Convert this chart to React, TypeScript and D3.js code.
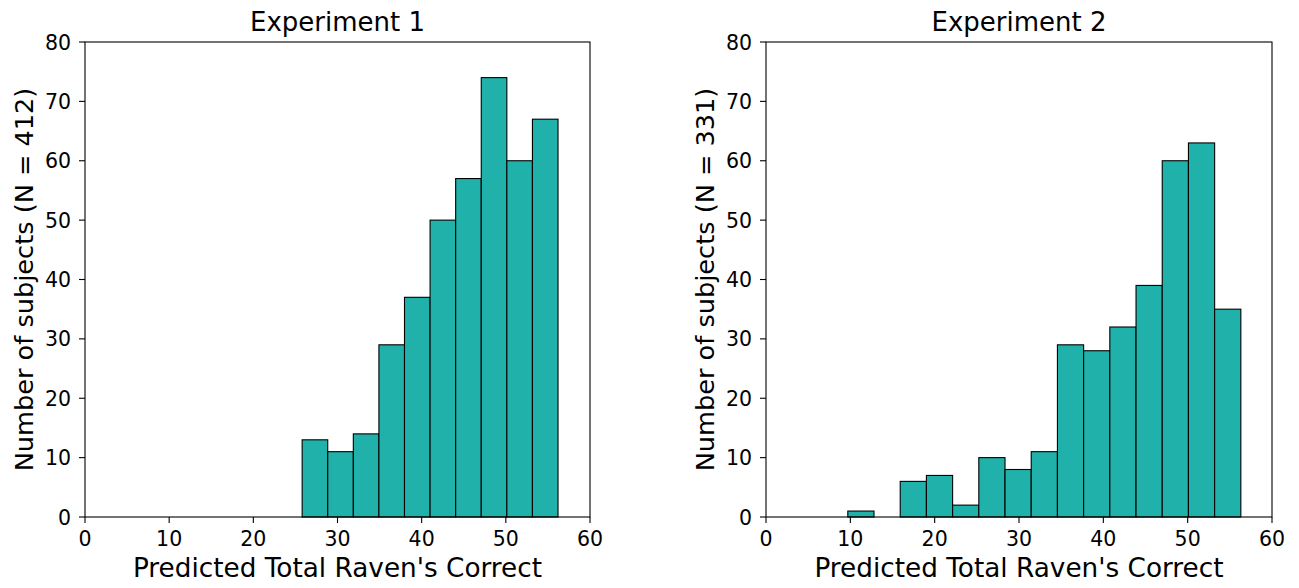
import React from "react";
import * as d3 from "d3";

const exp1Start = 25.8;
const exp1Width = 3.04;
const exp1Counts = [13, 11, 14, 29, 37, 50, 57, 74, 60, 67];

const exp2Start = 9.7;
const exp2Width = 3.107;
const exp2Counts = [1, 0, 6, 7, 2, 10, 8, 11, 29, 28, 32, 39, 60, 63, 35];

const xTicks = [0, 10, 20, 30, 40, 50, 60];
const yTicks = [0, 10, 20, 30, 40, 50, 60, 70, 80];

const FONT = "DejaVu Sans, sans-serif";

function Panel({ left, right, title, ylabel, start, width, counts }: any) {
  const top = 42, bottom = 517;
  const x = d3.scaleLinear().domain([0, 60]).range([left, right]);
  const y = d3.scaleLinear().domain([0, 80]).range([bottom, top]);
  return (
    <g>
      {counts.map((c: number, i: number) => {
        const x0 = x(start + i * width);
        const x1 = x(start + (i + 1) * width);
        return (
          <rect key={i} x={x0} y={y(c)} width={x1 - x0} height={y(0) - y(c)}
            fill="#20b2aa" stroke="#000" strokeWidth={1.1} />
        );
      })}
      <rect x={left} y={top} width={right - left} height={bottom - top} fill="none" stroke="#000" strokeWidth={1.1} />
      {xTicks.map((t) => (
        <g key={t}>
          <line x1={x(t)} x2={x(t)} y1={bottom} y2={bottom + 6} stroke="#000" strokeWidth={1.1} />
          <text x={x(t)} y={546} textAnchor="middle" fontSize={20.5} fontFamily={FONT}>{t}</text>
        </g>
      ))}
      {yTicks.map((t) => (
        <g key={t}>
          <line x1={left - 6} x2={left} y1={y(t)} y2={y(t)} stroke="#000" strokeWidth={1.1} />
          <text x={left - 14} y={y(t) + 7.5} textAnchor="end" fontSize={20.5} fontFamily={FONT}>{t}</text>
        </g>
      ))}
      <text x={(left + right) / 2} y={31} textAnchor="middle" fontSize={26} fontFamily={FONT}>{title}</text>
      <text x={(left + right) / 2} y={577} textAnchor="middle" fontSize={26.3} fontFamily={FONT}>Predicted Total Raven's Correct</text>
      <text transform={`translate(${left - 52},${(top + bottom) / 2}) rotate(-90)`} textAnchor="middle" fontSize={25.6} fontFamily={FONT}>{ylabel}</text>
    </g>
  );
}

export default function App() {
  return (
    <svg width={1299} height={588} style={{ position: "absolute", left: 0, top: 0, background: "#fff" }}>
      <Panel left={85} right={590} title="Experiment 1" ylabel="Number of subjects (N = 412)"
        start={exp1Start} width={exp1Width} counts={exp1Counts} />
      <Panel left={766} right={1272} title="Experiment 2" ylabel="Number of subjects (N = 331)"
        start={exp2Start} width={exp2Width} counts={exp2Counts} />
    </svg>
  );
}
